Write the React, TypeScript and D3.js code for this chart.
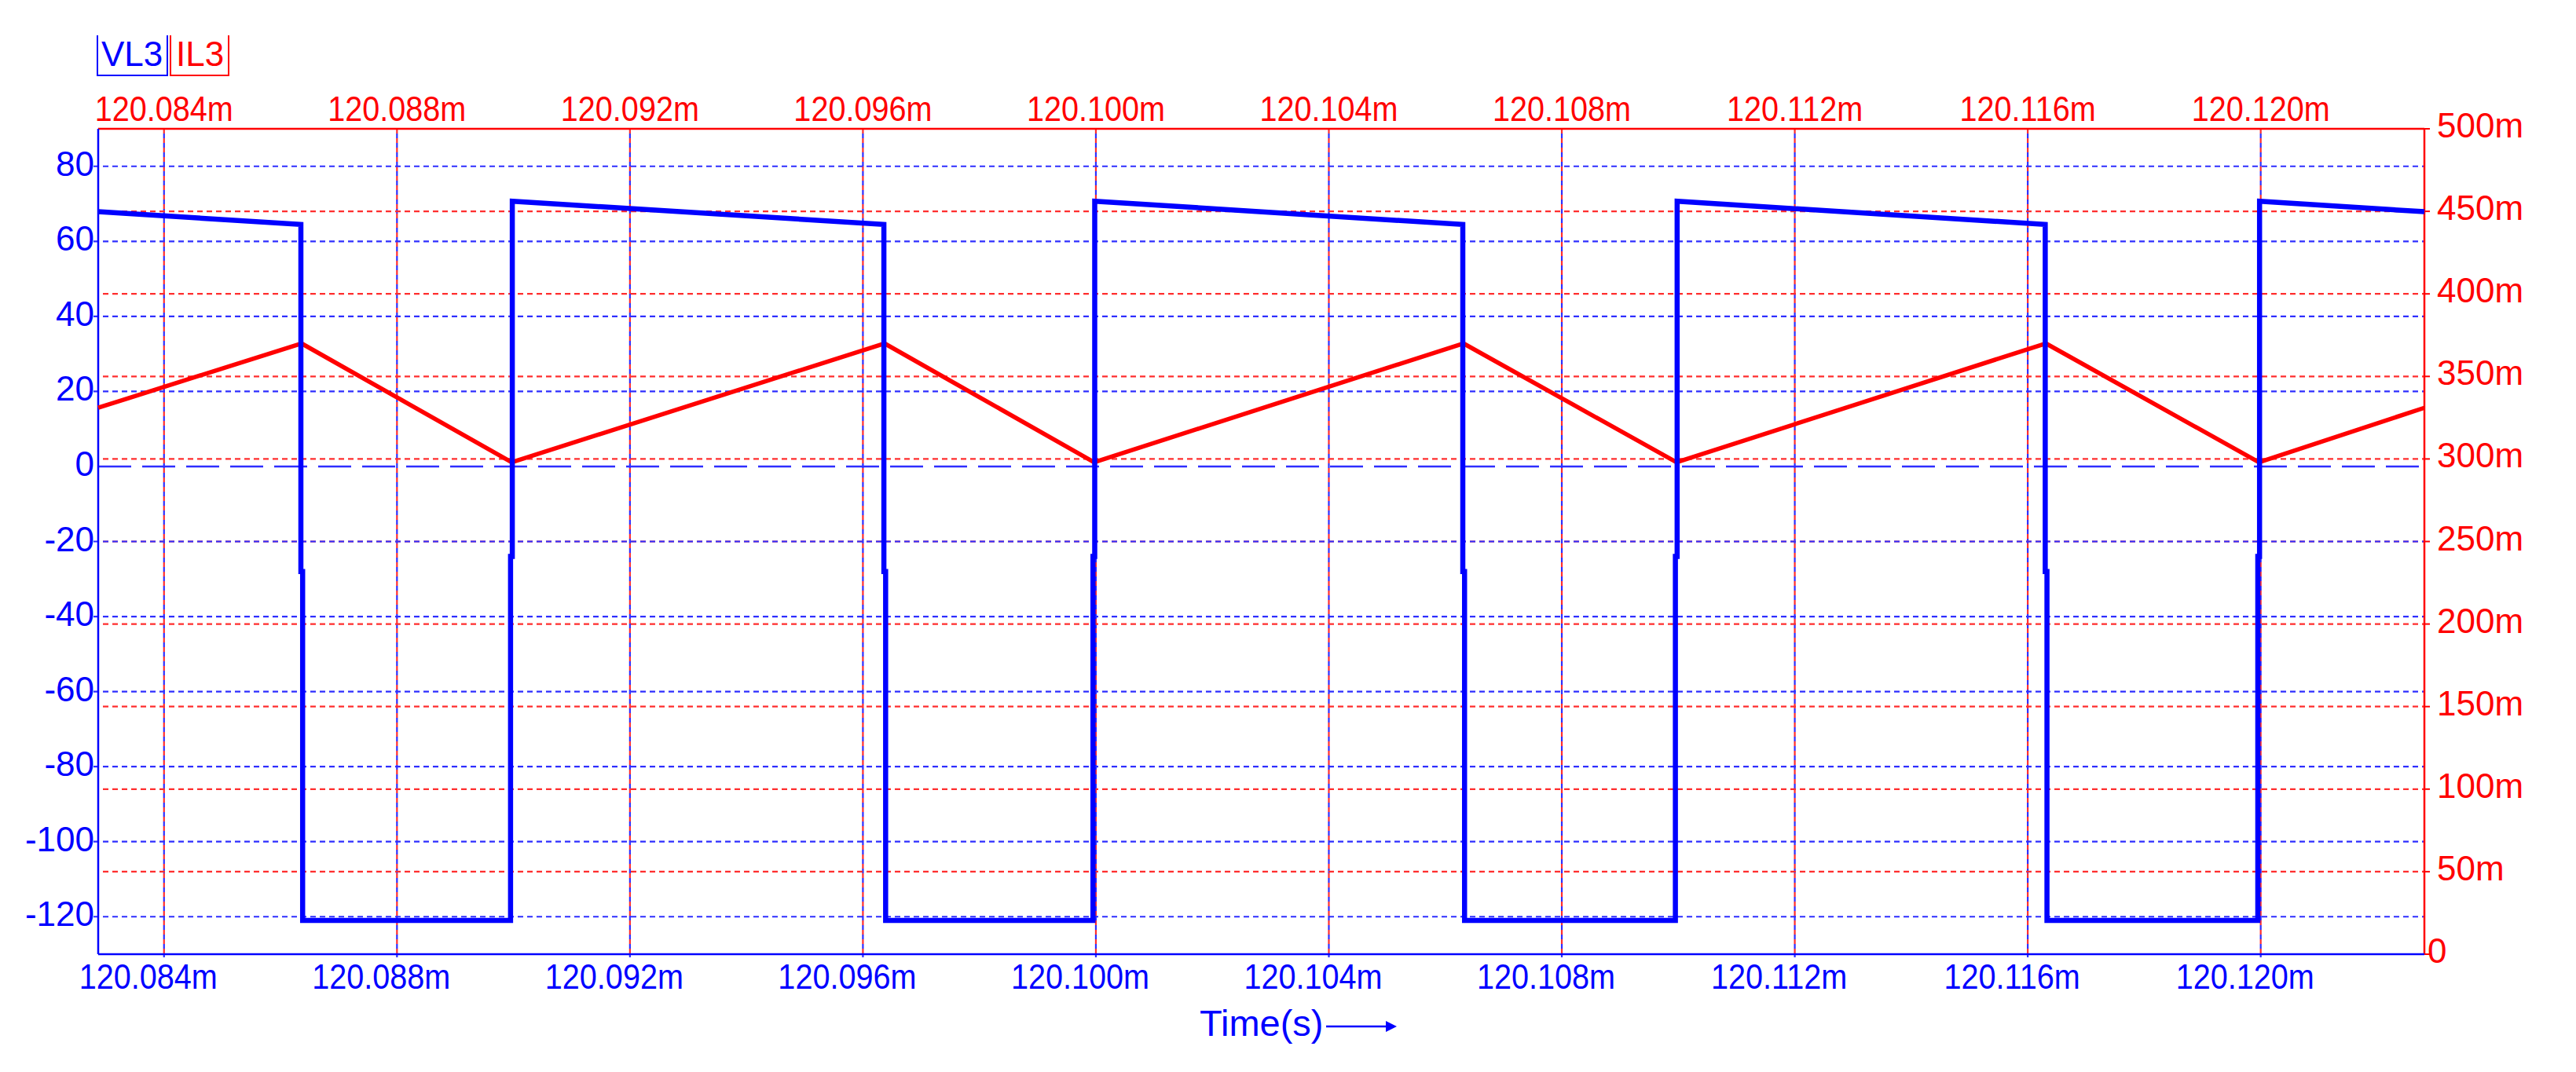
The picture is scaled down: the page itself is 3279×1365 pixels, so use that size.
import React from "react";
import * as d3 from "d3";

// ---- data ----
const timeDomain = [120.08287, 120.12281]; // ms
const xTickValues = [120.084, 120.088, 120.092, 120.096, 120.1, 120.104, 120.108, 120.112, 120.116, 120.12];
const xTickLabels = ["120.084m", "120.088m", "120.092m", "120.096m", "120.100m", "120.104m", "120.108m", "120.112m", "120.116m", "120.120m"];

const leftDomain = [-130, 90];
const leftTickValues = [80, 60, 40, 20, 0, -20, -40, -60, -80, -100, -120];
const leftTickLabels = ["80", "60", "40", "20", "0", "-20", "-40", "-60", "-80", "-100", "-120"];

const rightDomain = [0, 0.5];
const rightTickValues = [0.5, 0.45, 0.4, 0.35, 0.3, 0.25, 0.2, 0.15, 0.1, 0.05, 0];
const rightTickLabels = ["500m", "450m", "400m", "350m", "300m", "250m", "200m", "150m", "100m", "50m", "0"];

// VL3 (V) vs time (ms)
const vTime = [
  120.08287,
  120.08635, 120.08635, 120.08638, 120.08638, 120.08995, 120.08995, 120.08998, 120.08998,
  120.09636, 120.09636, 120.09639, 120.09639, 120.09995, 120.09995, 120.09998, 120.09998,
  120.1063, 120.1063, 120.10633, 120.10633, 120.10995, 120.10995, 120.10998, 120.10998,
  120.1163, 120.1163, 120.11633, 120.11633, 120.11995, 120.11995, 120.11998, 120.11998,
  120.12281,
];
const vL3 = [
  67.9,
  64.5, -28, -28, -121, -121, -24, -24, 70.7,
  64.5, -28, -28, -121, -121, -24, -24, 70.7,
  64.5, -28, -28, -121, -121, -24, -24, 70.7,
  64.5, -28, -28, -121, -121, -24, -24, 70.7,
  67.9,
];

// IL3 (A) vs time (ms)
const iTime = [120.08287, 120.08636, 120.08997, 120.09637, 120.09997, 120.10631, 120.10997, 120.11631, 120.11997, 120.12281];
const iL3 = [0.331, 0.37, 0.298, 0.37, 0.298, 0.37, 0.298, 0.37, 0.298, 0.331];

const legendNames = ["VL3", "IL3"];

// ---- layout ----
const W = 3279;
const H = 1365;
const L = 125, R = 3086, T = 164, B = 1215;
const FONT = "'Liberation Sans', Arial, sans-serif";
const BLUE = "#0000ff";
const RED = "#ff0000";
const GBLUE = "#2e2eff";
const GRED = "#ff2e2e";

function NarrowText(props: { x: number; y: number; fill: string; children: string; anchor?: string; sx?: number }) {
  const sx = props.sx ?? 0.9;
  return (
    <text
      transform={`translate(${props.x},${props.y}) scale(${sx},1)`}
      fontSize={44}
      fill={props.fill}
      textAnchor={props.anchor ?? "middle"}
    >
      {props.children}
    </text>
  );
}

export default function App() {
  const x = d3.scaleLinear().domain(timeDomain).range([L, R]);
  const yL = d3.scaleLinear().domain(leftDomain).range([B, T]);
  const yR = d3.scaleLinear().domain(rightDomain).range([B, T]);

  const vPts = vTime.map((t, i) => [t, vL3[i]] as [number, number]);
  const iPts = iTime.map((t, i) => [t, iL3[i]] as [number, number]);
  const vLine = d3.line<[number, number]>().x((d) => x(d[0])).y((d) => yL(d[1]));
  const iLine = d3.line<[number, number]>().x((d) => x(d[0])).y((d) => yR(d[1]));

  return (
    <svg
      width={W}
      height={H}
      viewBox={`0 0 ${W} ${H}`}
      style={{ position: "absolute", left: 0, top: 0, display: "block", background: "#fff" }}
      fontFamily={FONT}
    >
      <rect x={0} y={0} width={W} height={H} fill="#fff" />

      {/* legend */}
      <g>
        <path d={`M124,45 V96 H213 V45`} fill="none" stroke={BLUE} strokeWidth={2} />
        <text x={129} y={84} fontSize={44} fill={BLUE}>{legendNames[0]}</text>
        <path d={`M217,45 V96 H291 V45`} fill="none" stroke={RED} strokeWidth={2} />
        <text x={224} y={84} fontSize={44} fill={RED}>{legendNames[1]}</text>
      </g>

      {/* vertical grid */}
      {xTickValues.map((t, i) => (
        <g key={"vg" + i}>
          <line x1={x(t)} x2={x(t)} y1={T} y2={B + 4} stroke={GRED} strokeWidth={2.2} strokeDasharray="6,6" />
          <line x1={x(t)} x2={x(t)} y1={T} y2={B + 4} stroke={GBLUE} strokeWidth={2.2} strokeDasharray="6,6" strokeDashoffset={6} />
        </g>
      ))}

      {/* horizontal red grid (right axis) */}
      {rightTickValues.map((v, i) =>
        v > 0 && v < 0.5 ? (
          <line key={"rg" + i} x1={L} x2={R} y1={yR(v)} y2={yR(v)} stroke={GRED} strokeWidth={2.2} strokeDasharray="7,5" strokeDashoffset={6} />
        ) : null
      )}

      {/* horizontal blue grid (left axis) */}
      {leftTickValues.map((v, i) =>
        v === 0 ? (
          <line key={"lg" + i} x1={L} x2={R} y1={yL(v)} y2={yL(v)} stroke={GBLUE} strokeWidth={2.6} strokeDasharray="42,14" />
        ) : (
          <line key={"lg" + i} x1={L - 6} x2={R} y1={yL(v)} y2={yL(v)} stroke={GBLUE} strokeWidth={2.2} strokeDasharray="7,5" />
        )
      )}

      {/* right axis ticks */}
      {rightTickValues.map((v, i) => (
        <line key={"rt" + i} x1={R} x2={R + 7} y1={yR(v)} y2={yR(v)} stroke={RED} strokeWidth={2} />
      ))}

      {/* frame */}
      <line x1={L} x2={R} y1={T} y2={T} stroke={RED} strokeWidth={2.5} />
      <line x1={R} x2={R} y1={T} y2={B} stroke={RED} strokeWidth={2.5} />
      <line x1={L} x2={L} y1={T} y2={B} stroke={BLUE} strokeWidth={2.5} />
      <line x1={L} x2={R} y1={B} y2={B} stroke={BLUE} strokeWidth={2.5} />

      {/* series */}
      <path d={iLine(iPts) || ""} fill="none" stroke={RED} strokeWidth={5.5} strokeLinejoin="round" />
      <path d={vLine(vPts) || ""} fill="none" stroke={BLUE} strokeWidth={6.5} strokeLinejoin="miter" />

      {/* left labels */}
      {leftTickValues.map((v, i) => (
        <text key={"ll" + i} x={120} y={yL(v) + 12} fontSize={44} fill={BLUE} textAnchor="end">
          {leftTickLabels[i]}
        </text>
      ))}

      {/* right labels */}
      {rightTickValues.map((v, i) => (
        <text key={"rl" + i} x={v === 0 ? 3090 : 3102} y={yR(v) + 11} fontSize={44} fill={RED}>
          {rightTickLabels[i]}
        </text>
      ))}

      {/* top / bottom x labels */}
      {xTickValues.map((t, i) => (
        <g key={"xl" + i}>
          <NarrowText x={x(t)} y={154} fill={RED}>{xTickLabels[i]}</NarrowText>
          <NarrowText x={x(t) - 20} y={1259} fill={BLUE}>{xTickLabels[i]}</NarrowText>
        </g>
      ))}

      {/* x-axis title */}
      <text x={1527} y={1319} fontSize={47} fill={BLUE}>Time(s)</text>
      <line x1={1688} x2={1768} y1={1307} y2={1307} stroke={BLUE} strokeWidth={2.5} />
      <path d="M1778,1307 L1764,1300 L1764,1314 Z" fill={BLUE} />
    </svg>
  );
}
